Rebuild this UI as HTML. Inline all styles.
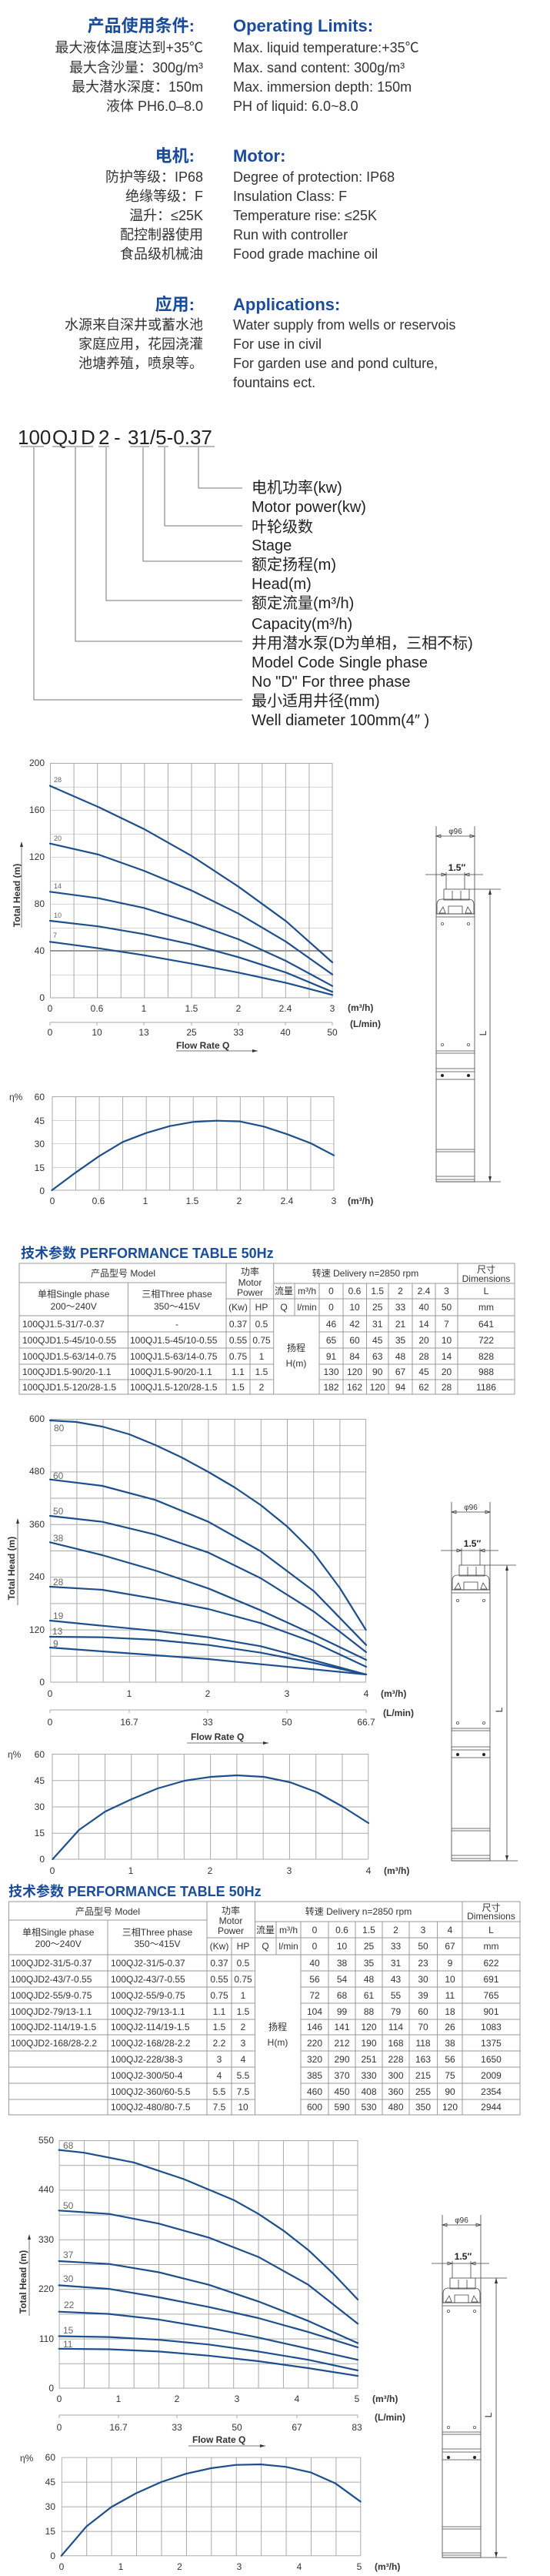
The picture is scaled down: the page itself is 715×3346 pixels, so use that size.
<!DOCTYPE html>
<html><head><meta charset="utf-8"><style>
html,body{margin:0;padding:0;background:#fff;}
svg{display:block;font-family:"Liberation Sans","Noto Sans CJK SC",sans-serif;}
.h{fill:#1b4c9c;font-weight:bold;font-size:22px}
.l{fill:#333;font-size:18px}
.r{text-anchor:end}
.m{text-anchor:middle}
.ax{fill:#333;font-size:12px}
.cl{fill:#666;font-size:11px}
.tb{fill:#333;font-size:12px}
.cv{fill:none;stroke:#1d4f8c;stroke-width:2.2;stroke-linejoin:round;stroke-linecap:round}
.gl{stroke:#aaa;stroke-width:1;fill:none}
.tl{stroke:#999;stroke-width:1;fill:none}
.ln{stroke:#777;stroke-width:1;fill:none}
.pm{stroke:#444;stroke-width:0.8;fill:none}
</style></head><body>
<svg width="715" height="3346" viewBox="0 0 715 3346" xmlns="http://www.w3.org/2000/svg">
<defs>
<pattern id="g1" x="65" y="991" width="30.583" height="30.5" patternUnits="userSpaceOnUse"><path d="M0 0.5H31M0.5 0V31" stroke="#aaa" fill="none"/></pattern>
<pattern id="e1" x="67.5" y="1424" width="30.54" height="30.5" patternUnits="userSpaceOnUse"><path d="M0 0.5H31M0.5 0V31" stroke="#aaa" fill="none"/></pattern>
<pattern id="g2" x="65.2" y="1843" width="34.2" height="34.2" patternUnits="userSpaceOnUse"><path d="M0 0.5H35M0.5 0V35" stroke="#aaa" fill="none"/></pattern>
<pattern id="e2" x="67.5" y="2278" width="34.27" height="34.25" patternUnits="userSpaceOnUse"><path d="M0 0.5H35M0.5 0V35" stroke="#aaa" fill="none"/></pattern>
<pattern id="g3" x="76.6" y="2780" width="32.37" height="32.2" patternUnits="userSpaceOnUse"><path d="M0 0.5H33M0.5 0V33" stroke="#aaa" fill="none"/></pattern>
<pattern id="e3" x="79.8" y="3191.6" width="32.42" height="32.03" patternUnits="userSpaceOnUse"><path d="M0 0.5H33M0.5 0V33" stroke="#aaa" fill="none"/></pattern>
<g id="ptop">
<path class="pm" d="M0 -82V32M50 -82V32M0 -69H50M0 -69l6 -2v4zM50 -69l-6 -2v4z"/>
<text x="25" y="-72" class="m" style="font-size:10px;fill:#333">φ96</text>
<text x="27" y="-24" class="m" style="font-size:12px;fill:#222;font-weight:bold">1.5″</text>
<path class="pm" d="M-14 -19H61M13 -22V0M37 -22V0M13 -19l-6 -2v4zM37 -19l6 -2v4z"/>
<rect x="10" y="0" width="33" height="14" class="pm" fill="#fff"/>
<path class="pm" d="M21 2V14M32 2V14"/>
<path class="pm" d="M1 32V20Q1 13 8 13H42Q49 13 49 20V32ZM16 22H34V32H16ZM4 31l5 -8 3 8zM46 31l-5 -8 -3 8z"/>
<path class="pm" d="M0 32H50M0 36H50M43 0H84"/>
</g>
</defs>

<!-- Top text -->
<text x="253" y="41" class="h r">产品使用条件:</text>
<text x="303" y="41" class="h">Operating Limits:</text>
<text x="264" y="68" class="l r">最大液体温度达到+35℃</text>
<text x="264" y="94" class="l r">最大含沙量：300g/m³</text>
<text x="264" y="119" class="l r">最大潜水深度：150m</text>
<text x="264" y="144" class="l r">液体 PH6.0–8.0</text>
<text x="303" y="68" class="l">Max. liquid temperature:+35℃</text>
<text x="303" y="94" class="l">Max. sand content: 300g/m³</text>
<text x="303" y="119" class="l">Max. immersion depth: 150m</text>
<text x="303" y="144" class="l">PH of liquid: 6.0~8.0</text>

<text x="253" y="210" class="h r">电机:</text>
<text x="303" y="210" class="h">Motor:</text>
<text x="264" y="236" class="l r">防护等级：IP68</text>
<text x="264" y="261" class="l r">绝缘等级：F</text>
<text x="264" y="286" class="l r">温升：≤25K</text>
<text x="264" y="311" class="l r">配控制器使用</text>
<text x="264" y="336" class="l r">食品级机械油</text>
<text x="303" y="236" class="l">Degree of protection: IP68</text>
<text x="303" y="261" class="l">Insulation Class: F</text>
<text x="303" y="286" class="l">Temperature rise: ≤25K</text>
<text x="303" y="311" class="l">Run with controller</text>
<text x="303" y="336" class="l">Food grade machine oil</text>

<text x="253" y="403" class="h r">应用:</text>
<text x="303" y="403" class="h">Applications:</text>
<text x="264" y="428" class="l r">水源来自深井或蓄水池</text>
<text x="264" y="453" class="l r">家庭应用，花园浇灌</text>
<text x="264" y="478" class="l r">池塘养殖，喷泉等。</text>
<text x="303" y="428" class="l">Water supply from wells or reservois</text>
<text x="303" y="453" class="l">For use in civil</text>
<text x="303" y="478" class="l">For garden use and pond culture,</text>
<text x="303" y="503" class="l">fountains ect.</text>

<!-- Model code -->
<g style="font-size:26px;fill:#222">
<text x="23" y="577">100</text><text x="68" y="577">QJ</text><text x="105" y="577">D</text><text x="128" y="577">2</text><text x="148" y="577">-</text><text x="166" y="577">31/5-0.37</text>
</g>
<path class="ln" d="M27 580H57M68 580H121M128 580H142M169 580H194M205 580H219M233 580H279"/>
<path class="ln" d="M258 581V634H315M214 581V683H315M186 581V729H315M138 581V780H315M98 581V833H315M44 581V909H315"/>
<g style="font-size:20px;fill:#222">
<text x="327" y="640">电机功率(kw)</text>
<text x="327" y="665">Motor power(kw)</text>
<text x="327" y="691">叶轮级数</text>
<text x="327" y="715">Stage</text>
<text x="327" y="740">额定扬程(m)</text>
<text x="327" y="765">Head(m)</text>
<text x="327" y="790">额定流量(m³/h)</text>
<text x="327" y="817">Capacity(m³/h)</text>
<text x="327" y="842">井用潜水泵(D为单相，三相不标)</text>
<text x="327" y="867">Model Code  Single phase</text>
<text x="327" y="892">No "D" For three phase</text>
<text x="327" y="917">最小适用井径(mm)</text>
<text x="327" y="942">Well diameter 100mm(4″ )</text>
</g>

<!-- Chart 1 -->
<rect x="65" y="991" width="367" height="305" fill="url(#g1)"/>
<path class="gl" d="M432 991V1296M65 1296H432"/>
<path d="M65 1235H432" stroke="#999" stroke-width="2"/>
<g class="ax r"><text x="58" y="995">200</text><text x="58" y="1056">160</text><text x="58" y="1117">120</text><text x="58" y="1178">80</text><text x="58" y="1239">40</text><text x="58" y="1300">0</text></g>
<g class="ax m"><text x="65" y="1314">0</text><text x="126" y="1314">0.6</text><text x="187" y="1314">1</text><text x="249" y="1314">1.5</text><text x="310" y="1314">2</text><text x="371" y="1314">2.4</text><text x="432" y="1314">3</text>
<text x="65" y="1345">0</text><text x="126" y="1345">10</text><text x="187" y="1345">13</text><text x="249" y="1345">25</text><text x="310" y="1345">33</text><text x="371" y="1345">40</text><text x="432" y="1345">50</text></g>
<path class="gl" d="M65 1328H432M65 1328v4M126 1328v4M187 1328v4M249 1328v4M310 1328v4M371 1328v4M432 1328v4"/>
<text x="452" y="1313" class="ax" style="font-weight:bold">(m³/h)</text>
<text x="455" y="1334" class="ax" style="font-weight:bold">(L/min)</text>
<text x="229" y="1362" class="ax" style="font-weight:bold">Flow Rate  Q</text>
<path class="ln" d="M229 1365H335"/><path d="M335 1365l-7 -2v4z" fill="#333"/>
<text transform="translate(26 1163) rotate(-90)" class="ax m" style="font-weight:bold">Total  Head  (m)</text>
<path class="ln" d="M28 1205V1095"/><path d="M28 1093l-2 7h4z" fill="#333"/>
<polyline class="cv" points="65,1020.7 128,1048.3 187,1076.7 249,1111.7 310,1151.7 372,1196.7 432,1250"/>
<polyline class="cv" points="65,1095.7 128,1110 187,1131 249,1156.7 310,1186.7 372,1223.3 432,1265.7"/>
<polyline class="cv" points="65,1158.3 128,1166.7 187,1179.3 249,1198.3 310,1220 372,1248.3 432,1280.7"/>
<polyline class="cv" points="65,1196 128,1203.3 187,1213.3 249,1226.7 310,1243.3 372,1263.3 432,1288.3"/>
<polyline class="cv" points="65,1223.3 128,1231.7 187,1240.7 249,1251.7 310,1263.3 372,1276.7 432,1292.3"/>
<g class="cl" style="font-size:9px"><text x="70" y="1016">28</text><text x="70" y="1092">20</text><text x="70" y="1154">14</text><text x="70" y="1192">10</text><text x="69" y="1218">7</text></g>

<!-- Eff 1 -->
<rect x="67.5" y="1424" width="366.5" height="122" fill="url(#e1)"/>
<path class="gl" d="M434 1424V1546M67.5 1546H434"/>
<text x="12" y="1429" class="ax">η%</text>
<g class="ax r"><text x="58" y="1429">60</text><text x="58" y="1460">45</text><text x="58" y="1490">30</text><text x="58" y="1521">15</text><text x="58" y="1551">0</text></g>
<g class="ax m"><text x="68" y="1564">0</text><text x="128" y="1564">0.6</text><text x="189" y="1564">1</text><text x="250" y="1564">1.5</text><text x="311" y="1564">2</text><text x="373" y="1564">2.4</text><text x="434" y="1564">3</text></g>
<text x="452" y="1564" class="ax" style="font-weight:bold">(m³/h)</text>
<polyline class="cv" points="67.5,1546 98,1523.3 129,1501.7 159.6,1483.3 190,1471.7 220.7,1462.7 251,1457.3 281.8,1455.7 312,1456.7 343,1463.3 373.5,1473.3 404,1485 434,1500.7"/>

<!-- Pump 1 -->
<use href="#ptop" x="567" y="1155"/>
<rect x="567" y="1187" width="50" height="348" class="pm"/>
<path class="pm" d="M637 1155V1535M567 1535H651M567 1365H617M567 1368H617M567 1388H617M567 1392H617M567 1402H617M567 1493H617M567 1496H617M567 1528H617M567 1532H617"/>
<path d="M637 1155l-2 7h4zM637 1535l-2 -7h4z" fill="#333"/>
<g fill="none" stroke="#555" stroke-width="0.8"><circle cx="575" cy="1200" r="1.6"/><circle cx="609" cy="1200" r="1.6"/><circle cx="575" cy="1357" r="1.6"/><circle cx="609" cy="1357" r="1.6"/></g>
<circle cx="575" cy="1397" r="2" fill="#222"/><circle cx="609" cy="1397" r="2" fill="#222"/>
<text transform="translate(632 1342) rotate(-90)" class="ax m">L</text>

<!-- Table 1 -->
<text x="27" y="1634" style="font-size:18px;font-weight:bold;fill:#1b4c9c">技术参数 PERFORMANCE TABLE 50Hz</text>
<rect x="25" y="1641" width="644" height="170" class="tl"/>
<path class="tl" d="M166.4 1666V1811M294 1641V1811M325 1687V1811M355.7 1641V1811M383 1667V1709M415 1667V1811M446 1667V1811M476.5 1667V1811M505 1667V1811M536 1667V1811M566 1667V1811M595 1641V1811
M25 1666H294M355.7 1667H669M294 1687H669M25 1709H669M25 1730H355.7M415 1730H669M25 1751H355.7M415 1751H669M25 1772H355.7M415 1772H669M25 1792H355.7M415 1792H669"/>
<g class="tb m">
<text x="160" y="1658">产品型号  Model</text>
<text x="95.7" y="1685">单相Single phase</text><text x="95.7" y="1701">200～240V</text>
<text x="230" y="1685">三相Three phase</text><text x="230" y="1701">350～415V</text>
<text x="325" y="1656">功率</text><text x="325" y="1670">Motor</text><text x="325" y="1683">Power</text>
<text x="309.5" y="1702">(Kw)</text><text x="340" y="1702">HP</text>
<text x="475" y="1658">转速  Delivery n=2850 rpm</text>
<text x="632" y="1653">尺寸</text><text x="632" y="1665">Dimensions</text>
<text x="369" y="1681">流量</text><text x="399" y="1681">m³/h</text><text x="430.5" y="1681">0</text><text x="461" y="1681">0.6</text><text x="490.7" y="1681">1.5</text><text x="520.5" y="1681">2</text><text x="551" y="1681">2.4</text><text x="580.5" y="1681">3</text><text x="632" y="1681">L</text>
<text x="369" y="1702">Q</text><text x="399" y="1702">l/min</text><text x="430.5" y="1702">0</text><text x="461" y="1702">10</text><text x="490.7" y="1702">25</text><text x="520.5" y="1702">33</text><text x="551" y="1702">40</text><text x="580.5" y="1702">50</text><text x="632" y="1702">mm</text>
<text x="385" y="1755">扬程</text><text x="385" y="1775">H(m)</text>
</g>
<g class="tb">
<text x="29" y="1724">100QJ1.5-31/7-0.37</text><text x="29" y="1745">100QJD1.5-45/10-0.55</text><text x="29" y="1766">100QJD1.5-63/14-0.75</text><text x="29" y="1786">100QJD1.5-90/20-1.1</text><text x="29" y="1806">100QJD1.5-120/28-1.5</text>
<text x="169" y="1745">100QJ1.5-45/10-0.55</text><text x="169" y="1766">100QJ1.5-63/14-0.75</text><text x="169" y="1786">100QJ1.5-90/20-1.1</text><text x="169" y="1806">100QJ1.5-120/28-1.5</text>
</g>
<g class="tb m">
<text x="230" y="1724">-</text>
<text x="309.5" y="1724">0.37</text><text x="340" y="1724">0.5</text><text x="309.5" y="1745">0.55</text><text x="340" y="1745">0.75</text><text x="309.5" y="1766">0.75</text><text x="340" y="1766">1</text><text x="309.5" y="1786">1.1</text><text x="340" y="1786">1.5</text><text x="309.5" y="1806">1.5</text><text x="340" y="1806">2</text>
<text x="430.5" y="1724">46</text><text x="461" y="1724">42</text><text x="490.7" y="1724">31</text><text x="520.5" y="1724">21</text><text x="551" y="1724">14</text><text x="580.5" y="1724">7</text><text x="632" y="1724">641</text>
<text x="430.5" y="1745">65</text><text x="461" y="1745">60</text><text x="490.7" y="1745">45</text><text x="520.5" y="1745">35</text><text x="551" y="1745">20</text><text x="580.5" y="1745">10</text><text x="632" y="1745">722</text>
<text x="430.5" y="1766">91</text><text x="461" y="1766">84</text><text x="490.7" y="1766">63</text><text x="520.5" y="1766">48</text><text x="551" y="1766">28</text><text x="580.5" y="1766">14</text><text x="632" y="1766">828</text>
<text x="430.5" y="1786">130</text><text x="461" y="1786">120</text><text x="490.7" y="1786">90</text><text x="520.5" y="1786">67</text><text x="551" y="1786">45</text><text x="580.5" y="1786">20</text><text x="632" y="1786">988</text>
<text x="430.5" y="1806">182</text><text x="461" y="1806">162</text><text x="490.7" y="1806">120</text><text x="520.5" y="1806">94</text><text x="551" y="1806">62</text><text x="580.5" y="1806">28</text><text x="632" y="1806">1186</text>
</g>

<!-- Chart 2 -->
<rect x="65.2" y="1843" width="410.4" height="342" fill="url(#g2)"/>
<path class="gl" d="M475.6 1843V2185M65.2 2185H475.6"/>
<g class="ax r"><text x="58" y="1847">600</text><text x="58" y="1915">480</text><text x="58" y="1984">360</text><text x="58" y="2052">240</text><text x="58" y="2121">120</text><text x="58" y="2189">0</text></g>
<g class="ax m"><text x="65" y="2204">0</text><text x="168" y="2204">1</text><text x="270" y="2204">2</text><text x="373" y="2204">3</text><text x="476" y="2204">4</text>
<text x="65" y="2241">0</text><text x="168" y="2241">16.7</text><text x="270" y="2241">33</text><text x="373" y="2241">50</text><text x="476" y="2241">66.7</text></g>
<path class="gl" d="M65 2221H476M65 2221v4M168 2221v4M270 2221v4M373 2221v4M476 2221v4"/>
<text x="495" y="2204" class="ax" style="font-weight:bold">(m³/h)</text>
<text x="498" y="2229" class="ax" style="font-weight:bold">(L/min)</text>
<text x="248" y="2260" class="ax" style="font-weight:bold">Flow Rate  Q</text>
<path class="ln" d="M243 2264H349"/><path d="M349 2264l-7 -2v4z" fill="#333"/>
<text transform="translate(19 2037) rotate(-90)" class="ax m" style="font-weight:bold">Total  Head  (m)</text>
<path class="ln" d="M23 2085V1975"/><path d="M23 1972l-2 7h4z" fill="#333"/>
<polyline class="cv" points="65,1845 99,1847 133,1853 168,1863 202,1877 236,1893 271,1912 305,1932 339,1955 373.5,1983 407.7,2017 442,2063 475.6,2117"/>
<polyline class="cv" points="65,1921.7 133,1930 202,1948.3 271,1976.7 339,2015 408,2066.7 476,2136.7"/>
<polyline class="cv" points="65,1969 133,1976.7 202,1993.3 271,2016.7 339,2050 408,2093.3 476,2146"/>
<polyline class="cv" points="65,2003.3 133,2020 202,2040 271,2063.3 339,2091.7 408,2123.3 476,2156"/>
<polyline class="cv" points="65,2061 133,2065 202,2076.7 271,2090 339,2108.3 408,2133.3 476,2165"/>
<polyline class="cv" points="65,2105 133,2111.7 202,2118.3 271,2126.7 339,2138.3 408,2156.7 476,2175"/>
<polyline class="cv" points="65,2126 133,2126.7 202,2130 271,2136.7 339,2146.7 408,2160 476,2175"/>
<polyline class="cv" points="65,2140 133,2145 202,2150 271,2155 339,2161.7 408,2168.3 476,2175"/>
<g class="cl" style="font-size:12px"><text x="70" y="1859">80</text><text x="69" y="1921">60</text><text x="69" y="1967">50</text><text x="69" y="2002">38</text><text x="69" y="2059">28</text><text x="69" y="2103">19</text><text x="68" y="2123">13</text><text x="69" y="2139">9</text></g>

<!-- Eff 2 -->
<rect x="67.5" y="2278" width="411.3" height="137" fill="url(#e2)"/>
<path class="gl" d="M478.8 2278V2415M67.5 2415H478.8"/>
<text x="10" y="2283" class="ax">η%</text>
<g class="ax r"><text x="58" y="2283">60</text><text x="58" y="2317">45</text><text x="58" y="2351">30</text><text x="58" y="2385">15</text><text x="58" y="2419">0</text></g>
<g class="ax m"><text x="68" y="2434">0</text><text x="170" y="2434">1</text><text x="273" y="2434">2</text><text x="376" y="2434">3</text><text x="479" y="2434">4</text></g>
<text x="499" y="2434" class="ax" style="font-weight:bold">(m³/h)</text>
<polyline class="cv" points="68.4,2415 102.6,2377 136.8,2353 171,2337 205,2323 240,2313 274,2308 308,2306 343,2308 377,2315 412,2328 446,2347 479,2368"/>

<!-- Pump 2 -->
<use href="#ptop" x="587" y="2033"/>
<rect x="587" y="2065" width="50" height="352" class="pm"/>
<path class="pm" d="M659 2033V2417M587 2417H673M587 2245H637M587 2248H637M587 2269H637M587 2273H637M587 2283H637M587 2375H637M587 2378H637M587 2410H637M587 2414H637"/>
<path d="M659 2033l-2 7h4zM659 2417l-2 -7h4z" fill="#333"/>
<g fill="none" stroke="#555" stroke-width="0.8"><circle cx="595" cy="2079" r="1.6"/><circle cx="629" cy="2079" r="1.6"/><circle cx="595" cy="2238" r="1.6"/><circle cx="629" cy="2238" r="1.6"/></g>
<circle cx="595" cy="2279" r="2" fill="#222"/><circle cx="629" cy="2279" r="2" fill="#222"/>
<text transform="translate(653 2221) rotate(-90)" class="ax m">L</text>

<!-- Table 2 -->
<text x="11" y="2463" style="font-size:18px;font-weight:bold;fill:#1b4c9c">技术参数 PERFORMANCE TABLE 50Hz</text>
<rect x="11.4" y="2470" width="664.6" height="277" class="tl"/>
<path class="tl" d="M140 2494V2747M269 2470V2747M301 2517V2747M331.5 2470V2747M359 2496V2539M391 2496V2747M427 2496V2747M462 2496V2747M497 2496V2747M532 2496V2747M568.6 2496V2747M601 2470V2747
M11.4 2494H269M331.5 2496H676M269 2517H676M11.4 2539H676
M11.4 2560H331.5M391 2560H676M11.4 2581H331.5M391 2581H676M11.4 2602H331.5M391 2602H676M11.4 2623H331.5M391 2623H676M11.4 2643H331.5M391 2643H676M11.4 2664H331.5M391 2664H676M11.4 2685H331.5M391 2685H676M11.4 2706H331.5M391 2706H676M11.4 2727H331.5M391 2727H676"/>
<g class="tb m">
<text x="140" y="2487">产品型号  Model</text>
<text x="75.7" y="2514">单相Single phase</text><text x="75.7" y="2529">200～240V</text>
<text x="204.5" y="2514">三相Three phase</text><text x="204.5" y="2529">350～415V</text>
<text x="300" y="2486">功率</text><text x="300" y="2499">Motor</text><text x="300" y="2512">Power</text>
<text x="285" y="2532">(Kw)</text><text x="316" y="2532">HP</text>
<text x="466" y="2487">转速  Delivery n=2850 rpm</text>
<text x="638.5" y="2482">尺寸</text><text x="638.5" y="2493">Dimensions</text>
<text x="345" y="2511">流量</text><text x="375" y="2511">m³/h</text><text x="409" y="2511">0</text><text x="444.5" y="2511">0.6</text><text x="479.5" y="2511">1.5</text><text x="514.5" y="2511">2</text><text x="550" y="2511">3</text><text x="585" y="2511">4</text><text x="638.5" y="2511">L</text>
<text x="345" y="2532">Q</text><text x="375" y="2532">l/min</text><text x="409" y="2532">0</text><text x="444.5" y="2532">10</text><text x="479.5" y="2532">25</text><text x="514.5" y="2532">33</text><text x="550" y="2532">50</text><text x="585" y="2532">67</text><text x="638.5" y="2532">mm</text>
<text x="361" y="2637">扬程</text><text x="361" y="2657">H(m)</text>
</g>
<g class="tb">
<text x="14" y="2554">100QJD2-31/5-0.37</text><text x="14" y="2575">100QJD2-43/7-0.55</text><text x="14" y="2596">100QJD2-55/9-0.75</text><text x="14" y="2617">100QJD2-79/13-1.1</text><text x="14" y="2637">100QJD2-114/19-1.5</text><text x="14" y="2658">100QJD2-168/28-2.2</text>
<text x="144" y="2554">100QJ2-31/5-0.37</text><text x="144" y="2575">100QJ2-43/7-0.55</text><text x="144" y="2596">100QJ2-55/9-0.75</text><text x="144" y="2617">100QJ2-79/13-1.1</text><text x="144" y="2637">100QJ2-114/19-1.5</text><text x="144" y="2658">100QJ2-168/28-2.2</text><text x="144" y="2679">100QJ2-228/38-3</text><text x="144" y="2700">100QJ2-300/50-4</text><text x="144" y="2721">100QJ2-360/60-5.5</text><text x="144" y="2741">100QJ2-480/80-7.5</text>
</g>
<g class="tb m">
<text x="285" y="2554">0.37</text><text x="316" y="2554">0.5</text>
<text x="285" y="2575">0.55</text><text x="316" y="2575">0.75</text>
<text x="285" y="2596">0.75</text><text x="316" y="2596">1</text>
<text x="285" y="2617">1.1</text><text x="316" y="2617">1.5</text>
<text x="285" y="2637">1.5</text><text x="316" y="2637">2</text>
<text x="285" y="2658">2.2</text><text x="316" y="2658">3</text>
<text x="285" y="2679">3</text><text x="316" y="2679">4</text>
<text x="285" y="2700">4</text><text x="316" y="2700">5.5</text>
<text x="285" y="2721">5.5</text><text x="316" y="2721">7.5</text>
<text x="285" y="2741">7.5</text><text x="316" y="2741">10</text>
<text x="409" y="2554">40</text><text x="444.5" y="2554">38</text><text x="479.5" y="2554">35</text><text x="514.5" y="2554">31</text><text x="550" y="2554">23</text><text x="585" y="2554">9</text><text x="638.5" y="2554">622</text>
<text x="409" y="2575">56</text><text x="444.5" y="2575">54</text><text x="479.5" y="2575">48</text><text x="514.5" y="2575">43</text><text x="550" y="2575">30</text><text x="585" y="2575">10</text><text x="638.5" y="2575">691</text>
<text x="409" y="2596">72</text><text x="444.5" y="2596">68</text><text x="479.5" y="2596">61</text><text x="514.5" y="2596">55</text><text x="550" y="2596">39</text><text x="585" y="2596">11</text><text x="638.5" y="2596">765</text>
<text x="409" y="2617">104</text><text x="444.5" y="2617">99</text><text x="479.5" y="2617">88</text><text x="514.5" y="2617">79</text><text x="550" y="2617">60</text><text x="585" y="2617">18</text><text x="638.5" y="2617">901</text>
<text x="409" y="2637">146</text><text x="444.5" y="2637">141</text><text x="479.5" y="2637">120</text><text x="514.5" y="2637">114</text><text x="550" y="2637">70</text><text x="585" y="2637">26</text><text x="638.5" y="2637">1083</text>
<text x="409" y="2658">220</text><text x="444.5" y="2658">212</text><text x="479.5" y="2658">190</text><text x="514.5" y="2658">168</text><text x="550" y="2658">118</text><text x="585" y="2658">38</text><text x="638.5" y="2658">1375</text>
<text x="409" y="2679">320</text><text x="444.5" y="2679">290</text><text x="479.5" y="2679">251</text><text x="514.5" y="2679">228</text><text x="550" y="2679">163</text><text x="585" y="2679">56</text><text x="638.5" y="2679">1650</text>
<text x="409" y="2700">385</text><text x="444.5" y="2700">370</text><text x="479.5" y="2700">330</text><text x="514.5" y="2700">300</text><text x="550" y="2700">215</text><text x="585" y="2700">75</text><text x="638.5" y="2700">2009</text>
<text x="409" y="2721">460</text><text x="444.5" y="2721">450</text><text x="479.5" y="2721">408</text><text x="514.5" y="2721">360</text><text x="550" y="2721">255</text><text x="585" y="2721">90</text><text x="638.5" y="2721">2354</text>
<text x="409" y="2741">600</text><text x="444.5" y="2741">590</text><text x="479.5" y="2741">530</text><text x="514.5" y="2741">480</text><text x="550" y="2741">350</text><text x="585" y="2741">120</text><text x="638.5" y="2741">2944</text>
</g>

<!-- Chart 3 -->
<rect x="76.6" y="2780" width="388.4" height="322" fill="url(#g3)"/>
<path class="gl" d="M465 2780V3102M76.6 3102H465"/>
<g class="ax r"><text x="70" y="2784">550</text><text x="70" y="2848">440</text><text x="70" y="2913">330</text><text x="70" y="2977">220</text><text x="70" y="3042">110</text><text x="70" y="3106">0</text></g>
<g class="ax m"><text x="77" y="3120">0</text><text x="154" y="3120">1</text><text x="230" y="3120">2</text><text x="308" y="3120">3</text><text x="386" y="3120">4</text><text x="464" y="3120">5</text>
<text x="77" y="3157">0</text><text x="154" y="3157">16.7</text><text x="230" y="3157">33</text><text x="308" y="3157">50</text><text x="386" y="3157">67</text><text x="464" y="3157">83</text></g>
<path class="gl" d="M77 3137H465M77 3137v4M154 3137v4M230 3137v4M308 3137v4M386 3137v4M465 3137v4"/>
<text x="484" y="3120" class="ax" style="font-weight:bold">(m³/h)</text>
<text x="487" y="3144" class="ax" style="font-weight:bold">(L/min)</text>
<text x="250" y="3173" class="ax" style="font-weight:bold">Flow Rate  Q</text>
<path class="ln" d="M245 3177H345"/><path d="M345 3177l-7 -2v4z" fill="#333"/>
<text transform="translate(34 2964) rotate(-90)" class="ax m" style="font-weight:bold">Total  Head  (m)</text>
<path class="ln" d="M38 3008V2905"/><path d="M38 2902l-2 7h4z" fill="#333"/>
<polyline class="cv" points="76.6,2792.6 109.4,2796.2 174.2,2808.9 239,2830.5 303.7,2857.6 336,2875.7 368.4,2897.3 400.8,2922.6 433.2,2953.3 465.1,2986.9"/>
<polyline class="cv" points="76.6,2871.3 141.8,2875.7 206.6,2888.3 271.3,2906.4 336,2931.6 400.8,2967.7 465.1,3018.3"/>
<polyline class="cv" points="76.6,2937 141.8,2940.7 206.6,2951.5 271.3,2967.7 336,2989.4 400.8,3014.7 465.1,3043.5"/>
<polyline class="cv" points="76.6,2968.4 141.8,2973.1 206.6,2984 271.3,2996.6 336,3011 400.8,3029.1 465.1,3049"/>
<polyline class="cv" points="76.6,3002.7 141.8,3005.6 206.6,3012.9 271.3,3023.7 336,3036.3 400.8,3050.8 465.1,3065.2"/>
<polyline class="cv" points="76.6,3034.5 141.8,3035.6 206.6,3039.2 271.3,3045.3 336,3054.4 400.8,3065.2 465.1,3078.9"/>
<polyline class="cv" points="76.6,3050.8 141.8,3051.5 206.6,3054.4 271.3,3059.8 336,3067 400.8,3076 465.1,3086.1"/>
<g class="cl" style="font-size:12px"><text x="82" y="2791">68</text><text x="82" y="2869">50</text><text x="82" y="2933">37</text><text x="82" y="2964">30</text><text x="83" y="2998">22</text><text x="82" y="3031">15</text><text x="82" y="3049">11</text></g>

<!-- Eff 3 -->
<rect x="79.8" y="3191.6" width="389" height="128.1" fill="url(#e3)"/>
<path class="gl" d="M468.8 3191.6V3319.7M79.8 3319.7H468.8"/>
<text x="26" y="3197" class="ax">η%</text>
<g class="ax r"><text x="72" y="3196">60</text><text x="72" y="3228">45</text><text x="72" y="3260">30</text><text x="72" y="3292">15</text><text x="72" y="3324">0</text></g>
<g class="ax m"><text x="80" y="3338">0</text><text x="157" y="3338">1</text><text x="233.5" y="3338">2</text><text x="311" y="3338">3</text><text x="389" y="3338">4</text><text x="467" y="3338">5</text></g>
<text x="487" y="3338" class="ax" style="font-weight:bold">(m³/h)</text>
<polyline class="cv" points="79.8,3319.7 112.2,3281.8 144.6,3256.5 177,3238.5 209.4,3224 241.8,3213.2 274.2,3206 306.6,3201.7 339,3201 371.4,3204.2 403.8,3211.4 436.2,3225.8 468.6,3249.3"/>

<!-- Pump 3 -->
<use href="#ptop" x="575" y="2959"/>
<rect x="575" y="2991" width="50" height="331" class="pm"/>
<path class="pm" d="M645 2959V3322M575 3322H659M575 3159H625M575 3162H625M575 3181H625M575 3185H625M575 3195H625M575 3282H625M575 3285H625M575 3316H625M575 3319H625"/>
<path d="M645 2959l-2 7h4zM645 3322l-2 -7h4z" fill="#333"/>
<g fill="none" stroke="#555" stroke-width="0.8"><circle cx="583" cy="3002" r="1.6"/><circle cx="617" cy="3002" r="1.6"/><circle cx="583" cy="3153" r="1.6"/><circle cx="617" cy="3153" r="1.6"/></g>
<circle cx="583" cy="3192" r="2" fill="#222"/><circle cx="617" cy="3192" r="2" fill="#222"/>
<text transform="translate(639 3137) rotate(-90)" class="ax m">L</text>
</svg>
</body></html>
